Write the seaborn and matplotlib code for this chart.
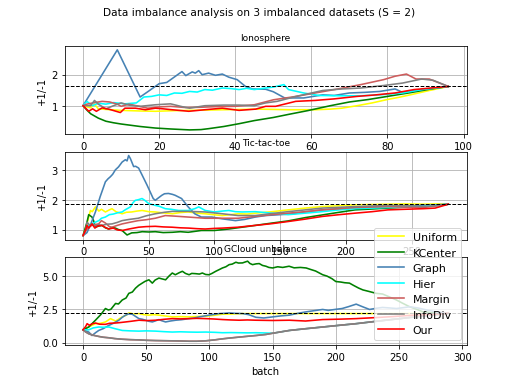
import matplotlib
matplotlib.use('Agg')
import matplotlib.pyplot as plt
from matplotlib.ticker import MultipleLocator, FormatStrFormatter
import pandas as pd
import seaborn as sns

METHODS = ['Uniform', 'KCenter', 'Graph', 'Hier', 'Margin', 'InfoDiv', 'Our']
COLORS = ['yellow', 'green', 'steelblue', 'cyan', 'indianred', 'gray', 'red']

# Ionosphere, (batch, +1/-1) pairs
IONO_UNIFORM = [(0, 1.0), (2, 0.93), (3, 1.05), (4, 0.9), (6, 0.88), (10, 0.85), (15, 0.83), (19, 0.82),
                (24, 0.84), (28, 0.85), (33, 0.86), (37, 0.87), (42, 0.88), (46, 0.89), (50, 0.88),
                (54, 0.87), (58, 0.87), (61, 0.87), (65, 0.89), (68, 0.92), (72, 1.0), (76, 1.09),
                (80, 1.2), (83, 1.27), (86, 1.35), (91, 1.49), (96, 1.62)]
IONO_KCENTER = [(0, 1.0), (1, 0.86), (2, 0.74), (4, 0.6), (6, 0.5), (8, 0.45), (10, 0.41), (15, 0.33),
                (19, 0.28), (23, 0.25), (28, 0.22), (31, 0.23), (33, 0.26), (37, 0.33), (41, 0.42),
                (45, 0.52), (50, 0.62), (54, 0.72), (59, 0.84), (65, 1.0), (70, 1.12), (75, 1.2),
                (80, 1.3), (86, 1.42), (91, 1.53), (96, 1.62)]
IONO_GRAPH = [(0, 1.0), (9, 2.8), (15, 1.28), (17, 1.45), (20, 1.71), (22, 1.75), (26, 2.1), (27, 1.97),
              (28.7, 2.09), (29.5, 2.05), (30.4, 2.13), (31.3, 2.0), (33, 2.05), (34.8, 1.98), (36.6, 2.02),
              (38.3, 1.92), (40.5, 1.84), (42.7, 1.62), (44.5, 1.54), (48, 1.53), (50, 1.45), (53, 1.25),
              (58, 1.25), (63, 1.35), (66, 1.33), (70, 1.41), (74, 1.43), (78, 1.46), (82, 1.54),
              (84, 1.43), (89, 1.52), (96, 1.62)]
IONO_HIER = [(0, 1.0), (1, 1.14), (2.4, 1.0), (4, 1.08), (6, 1.05), (8, 1.1), (11, 1.06), (14, 1.09),
             (16, 1.28), (18, 1.3), (20, 1.35), (22, 1.33), (24, 1.41), (26, 1.4), (28, 1.46), (30, 1.44),
             (32, 1.52), (34, 1.5), (36.6, 1.57), (39, 1.55), (41, 1.52), (43, 1.56), (45, 1.52), (48, 1.57),
             (50, 1.6), (52.8, 1.68), (54, 1.52), (58, 1.41), (62, 1.33), (68, 1.32), (73, 1.32),
             (78, 1.35), (84, 1.41), (89, 1.52), (96, 1.62)]
IONO_MARGIN = [(0, 1.0), (1, 1.05), (3, 1.1), (5, 1.14), (7, 1.12), (9, 1.05), (10, 0.98), (12, 1.05),
               (14, 1.0), (17, 0.92), (20, 0.96), (23, 0.98), (27, 0.94), (31, 0.95), (35, 0.97),
               (40, 0.98), (45, 1.03), (50, 1.19), (56, 1.3), (61, 1.41), (67, 1.54), (73, 1.68),
               (79, 1.84), (82, 1.95), (85, 2.02), (87.5, 1.86), (91, 1.86), (96, 1.62)]
IONO_INFODIV = [(0, 1.0), (2, 1.0), (3, 1.17), (4, 1.05), (6, 0.9), (8, 1.0), (10, 1.09), (12, 1.02),
                (15, 0.98), (19, 1.03), (23, 1.06), (26, 0.97), (28, 0.92), (32, 1.0), (37, 1.02),
                (41, 1.02), (45, 1.0), (48, 1.09), (51, 1.14), (56, 1.3), (63, 1.49), (68, 1.54),
                (73, 1.57), (79, 1.65), (84, 1.73), (89, 1.86), (92, 1.82), (96, 1.62)]
IONO_OUR = [(0, 1.0), (1.5, 0.82), (2.5, 0.9), (3.5, 0.82), (5, 0.93), (7, 0.88), (9.8, 0.78), (11, 0.92),
            (13.8, 0.92), (16.4, 0.87), (19, 0.92), (21, 0.9), (23.4, 0.87), (27.8, 0.82), (32, 0.87),
            (36.6, 0.92), (41, 0.85), (45.4, 0.89), (48, 0.98), (50.6, 0.98), (55.9, 1.14), (61, 1.17),
            (66, 1.22), (72, 1.3), (77, 1.35), (82, 1.41), (87, 1.52), (96, 1.62)]
IONO_REF = 1.62

# Tic-tac-toe
TTT_UNIFORM = [(0, 0.8), (3, 1.2), (5.6, 1.64), (7, 1.6), (9.4, 1.76), (12, 1.62), (14, 1.68), (17, 1.59),
               (20, 1.66), (22, 1.7), (25, 1.6), (29.7, 1.53), (33, 1.58), (37, 1.59), (41, 1.62),
               (45, 1.64), (50, 1.6), (55, 1.59), (61, 1.56), (68, 1.53), (74, 1.57), (80, 1.59),
               (87, 1.55), (93, 1.53), (99, 1.5), (106, 1.47), (112, 1.5), (118, 1.53), (125, 1.52),
               (131, 1.55), (144, 1.6), (156, 1.66), (169, 1.72), (182, 1.77), (195, 1.8), (207, 1.83),
               (220, 1.84), (232, 1.85), (245, 1.86), (259, 1.85), (270, 1.86), (278, 1.85)]
TTT_KCENTER = [(0, 0.8), (3, 1.25), (4.3, 1.5), (6.8, 1.42), (8, 1.3), (9.4, 1.08), (12, 1.12), (14.4, 1.14),
               (17, 1.06), (19.5, 1.02), (22, 1.07), (24.6, 1.05), (27, 1.0), (29.7, 0.97), (33.5, 0.82),
               (37, 0.89), (41, 0.9), (45, 0.93), (50, 0.92), (55, 0.93), (61, 0.9), (68, 0.91),
               (74, 0.93), (80, 0.91), (90, 0.97), (100, 0.97), (111, 1.02), (121, 1.08), (131, 1.14),
               (144, 1.22), (156, 1.29), (169, 1.4), (182, 1.49), (195, 1.58), (207, 1.66), (220, 1.69),
               (232, 1.72), (245, 1.75), (259, 1.77), (278, 1.85)]
TTT_GRAPH = [(0, 0.8), (3, 0.9), (6, 1.2), (9.4, 1.59), (13, 2.1), (17, 2.6), (19, 2.7), (20.8, 2.77),
             (22.5, 2.85), (24.6, 3.0), (27, 3.1), (29.7, 3.26), (32.2, 3.34), (33.5, 3.3), (34.7, 3.48),
             (36, 3.38), (38.5, 3.11), (40, 3.12), (42.3, 3.06), (44.9, 2.83), (48.7, 2.49), (53.4, 2.04),
             (55, 1.98), (57, 2.05), (60, 2.15), (62, 2.2), (65, 2.21), (68, 2.18), (70, 2.15), (75, 2.04),
             (80, 1.76), (85, 1.53), (90, 1.42), (98, 1.42), (106, 1.36), (116, 1.3), (123, 1.34),
             (131, 1.42), (139, 1.47), (150, 1.5), (160, 1.53), (170, 1.6), (182, 1.66), (195, 1.7),
             (207, 1.74), (220, 1.76), (232, 1.77), (245, 1.79), (259, 1.81), (278, 1.85)]
TTT_HIER = [(0, 0.8), (2, 0.95), (4.3, 1.14), (7, 1.2), (9.4, 1.25), (12, 1.3), (14, 1.38), (17, 1.42),
            (20, 1.5), (23, 1.52), (26, 1.56), (29.7, 1.59), (32, 1.66), (36, 1.76), (38, 1.9), (39.8, 1.98),
            (42, 2.0), (44.9, 2.04), (47, 1.98), (50, 1.87), (55, 1.81), (58, 1.78), (62.6, 1.7),
            (67, 1.68), (72.8, 1.64), (80, 1.64), (85, 1.7), (88, 1.76), (93, 1.64), (100, 1.59),
            (106, 1.62), (111, 1.64), (116, 1.6), (121, 1.59), (131, 1.6), (144, 1.55), (156, 1.5),
            (169, 1.55), (182, 1.6), (195, 1.66), (207, 1.7), (220, 1.72), (232, 1.74), (245, 1.76),
            (259, 1.77), (278, 1.85)]
TTT_MARGIN = [(0, 0.8), (2, 0.95), (4.3, 1.08), (7, 1.15), (11.9, 1.19), (14, 1.3), (17, 1.22), (20, 1.1),
              (22, 1.08), (26, 1.14), (29.7, 1.19), (35, 1.24), (42, 1.3), (48, 1.33), (55, 1.38),
              (62.6, 1.47), (70, 1.45), (80, 1.42), (93, 1.38), (106, 1.38), (118, 1.38), (131, 1.44),
              (144, 1.5), (156, 1.55), (169, 1.6), (182, 1.66), (195, 1.7), (207, 1.74), (232, 1.77),
              (259, 1.74), (278, 1.85)]
TTT_INFODIV = [(0, 0.8), (2, 1.0), (3, 1.25), (5, 1.15), (7, 1.2), (9, 1.12), (12, 1.16), (14.4, 1.14),
               (18, 1.18), (22, 1.19), (26, 1.24), (29.7, 1.3), (35, 1.34), (42, 1.38), (48, 1.46),
               (55, 1.53), (62, 1.58), (68, 1.61), (80, 1.61), (93, 1.59), (106, 1.53), (118, 1.47),
               (131, 1.47), (144, 1.54), (156, 1.6), (169, 1.66), (182, 1.72), (207, 1.77), (232, 1.81),
               (245, 1.8), (259, 1.77), (270, 1.8), (278, 1.85)]
TTT_OUR = [(0, 0.8), (2, 1.0), (3, 1.14), (4.3, 1.05), (6.8, 1.19), (9, 1.05), (11, 1.12), (14.4, 1.14),
           (17, 1.07), (19.5, 1.02), (23, 1.05), (26, 0.99), (29.7, 0.97), (35, 1.02), (42.3, 1.08),
           (48, 1.1), (55, 1.11), (61, 1.09), (67.7, 1.08), (74, 1.06), (80.4, 1.05), (87, 1.03),
           (93, 1.02), (100, 1.04), (106, 1.05), (118, 1.08), (131, 1.14), (144, 1.2), (156, 1.27),
           (169, 1.35), (182, 1.44), (195, 1.5), (207, 1.55), (220, 1.6), (232, 1.66), (245, 1.68),
           (259, 1.7), (268, 1.72), (278, 1.85)]
TTT_REF = 1.85

# GCloud unbalance
GC_UNIFORM = [(0, 0.96), (5, 1.2), (9.8, 1.42), (14, 1.45), (17.7, 1.55), (21.7, 1.8), (25.7, 1.62),
              (28, 1.75), (31, 1.93), (34, 2.05), (36.2, 2.23), (40, 2.15), (44.2, 2.18), (48, 2.1),
              (52, 2.06), (56, 2.1), (60, 2.06), (65, 2.0), (70.6, 1.93), (77, 1.95), (84, 1.93),
              (90, 1.96), (97, 1.98), (104, 2.05), (110, 2.13), (118, 2.15), (126, 2.18), (137, 2.18),
              (160, 2.18), (190, 2.18), (220, 2.18), (250, 2.18), (289, 2.2)]
GC_KCENTER = [(0, 0.96), (4.5, 1.17), (9.8, 1.68), (14, 2.1), (17.7, 2.56), (20, 2.45), (22, 2.5),
              (25.7, 2.94), (28, 2.9), (31, 3.2), (34, 3.35), (36.2, 3.7), (39, 3.8), (41.5, 4.09),
              (44, 4.3), (46.8, 4.47), (49, 4.6), (52.1, 4.72), (54.8, 4.47), (57, 4.7), (60, 4.85),
              (62, 4.8), (65.3, 4.72), (68, 5.0), (70.6, 5.23), (73, 5.1), (76, 5.25), (78.6, 5.36),
              (81, 5.2), (83.9, 5.1), (86, 5.2), (89.2, 5.18), (92, 5.15), (94.4, 5.23), (97, 5.12),
              (99.7, 5.1), (102, 5.2), (105, 5.36), (108, 5.5), (110.3, 5.61), (113, 5.7), (115.6, 5.86),
              (118, 5.9), (120.9, 6.04), (123, 5.98), (126.2, 5.99), (128, 6.05), (130.2, 6.12),
              (132, 5.95), (134.1, 5.86), (137, 5.92), (139.4, 5.94), (142, 5.8), (144.7, 5.74),
              (147, 5.65), (150, 5.61), (154, 5.7), (158, 5.65), (163, 5.74), (167, 5.62), (172, 5.65),
              (176.5, 5.61), (180, 5.5), (184, 5.38), (189.6, 5.1), (193, 5.0), (197, 4.8), (200, 4.59),
              (204, 4.55), (207, 4.5), (210.8, 4.47), (214, 4.3), (218, 4.1), (221.4, 3.96), (226, 3.85),
              (232, 3.7), (237, 3.65), (242, 3.45), (248, 3.2), (253, 2.95), (258.5, 2.69), (264, 2.5),
              (269, 2.31), (276, 2.25), (289, 2.2)]
GC_GRAPH = [(0, 0.96), (4.5, 0.79), (7.1, 0.53), (10, 0.75), (12.4, 0.91), (16, 1.05), (20.4, 1.29),
            (24, 1.45), (28.3, 1.68), (31, 1.9), (33.6, 2.06), (36, 2.15), (38.9, 2.13), (41, 2.0),
            (44.2, 1.8), (47, 1.75), (49.5, 1.68), (52, 1.6), (54.8, 1.55), (57, 1.62), (60, 1.73),
            (62, 1.65), (65.3, 1.55), (69, 1.62), (73.3, 1.68), (78, 1.72), (83.9, 1.8), (88, 1.85),
            (91.8, 1.93), (96, 2.0), (99.7, 2.06), (104, 2.12), (107.7, 2.18), (112, 2.2), (115.6, 2.23),
            (120, 2.2), (126.2, 2.18), (131, 2.1), (136.8, 1.9), (143, 1.85), (150, 1.93), (156, 2.0),
            (163.2, 2.06), (170, 2.2), (176.5, 2.31), (183, 2.4), (189.6, 2.49), (194, 2.42), (200, 2.5),
            (205, 2.56), (210, 2.7), (216.1, 2.89), (221, 2.7), (226.7, 2.49), (232, 2.58), (237, 2.64),
            (243, 2.6), (248, 2.56), (253, 2.62), (258.5, 2.69), (265, 2.6), (272, 2.45), (280, 2.3),
            (289, 2.2)]
GC_HIER = [(0, 0.96), (4.5, 0.96), (8, 1.1), (12.4, 1.17), (16, 1.15), (20.4, 1.17), (25, 1.05), (31, 0.91),
           (37, 0.88), (44.2, 0.86), (50, 0.88), (57.4, 0.86), (64, 0.82), (70.6, 0.79), (77, 0.81),
           (83.9, 0.79), (90, 0.78), (97, 0.79), (104, 0.77), (110.3, 0.74), (117, 0.75), (123.5, 0.74),
           (130, 0.73), (136.8, 0.74), (144.7, 0.72), (150, 0.7), (163.2, 0.91), (176, 1.04),
           (189.6, 1.17), (203, 1.3), (216, 1.42), (232, 1.6), (246, 1.75), (260, 1.9), (275, 2.05),
           (289, 2.2)]
GC_INFODIV = [(0, 0.96), (2, 0.8), (4.5, 0.66), (8, 0.55), (12.4, 0.46), (16, 0.4), (20.4, 0.36), (25, 0.3),
              (31, 0.25), (37, 0.22), (44.2, 0.2), (50, 0.17), (57.4, 0.15), (64, 0.14), (70.6, 0.13),
              (77, 0.12), (83.9, 0.1), (90, 0.1), (97, 0.13), (104, 0.2), (110.3, 0.28), (117, 0.35),
              (123.5, 0.41), (130, 0.47), (136.8, 0.53), (144.7, 0.61), (150, 0.7), (163.2, 0.91),
              (176, 1.04), (189.6, 1.17), (203, 1.3), (216, 1.42), (232, 1.6), (246, 1.75), (260, 1.9),
              (275, 2.05), (289, 2.2)]
GC_MARGIN = GC_INFODIV  # hidden under InfoDiv in the original
GC_OUR = [(0, 0.96), (2, 1.2), (3.2, 1.42), (5, 1.3), (7, 1.4), (9.8, 1.47), (13, 1.38), (17.7, 1.37),
          (21, 1.45), (25.7, 1.47), (29, 1.5), (33.6, 1.55), (38, 1.6), (44.2, 1.68), (50, 1.65),
          (57.4, 1.68), (64, 1.75), (70.6, 1.8), (77, 1.78), (83.9, 1.8), (90, 1.82), (97, 1.8),
          (104, 1.77), (110.3, 1.73), (117, 1.7), (123.5, 1.68), (130, 1.7), (136.8, 1.68), (150, 1.66),
          (163.2, 1.68), (176, 1.62), (189.6, 1.73), (203, 1.76), (216, 1.8), (232, 1.88), (246, 1.96),
          (260, 2.05), (275, 2.12), (289, 2.2)]
GC_REF = 2.2


def to_df(series_list):
    rows = []
    for name, pts in zip(METHODS, series_list):
        for x, y in pts:
            rows.append({'batch': x, 'value': y, 'method': name})
    return pd.DataFrame(rows)


def plot_panel(ax, series_list, ref, title):
    df = to_df(series_list)
    sns.lineplot(data=df, x='batch', y='value', hue='method', hue_order=METHODS,
                 palette=dict(zip(METHODS, COLORS)), estimator=None, sort=False,
                 linewidth=1.6, legend=False, ax=ax)
    ax.axhline(ref, color='k', linestyle='--', linewidth=1)
    ax.grid(True)
    ax.set_title(title, fontsize=9)
    ax.set_ylabel('+1/-1')
    ax.set_xlabel('')


fig, axes = plt.subplots(3, 1, figsize=(7.2, 5.4), dpi=72)
fig.suptitle('Data imbalance analysis on 3 imbalanced datasets (S = 2)', fontsize=10.5)

plot_panel(axes[0], [IONO_UNIFORM, IONO_KCENTER, IONO_GRAPH, IONO_HIER, IONO_MARGIN, IONO_INFODIV, IONO_OUR],
           IONO_REF, 'Ionosphere')
plot_panel(axes[1], [TTT_UNIFORM, TTT_KCENTER, TTT_GRAPH, TTT_HIER, TTT_MARGIN, TTT_INFODIV, TTT_OUR],
           TTT_REF, 'Tic-tac-toe')
plot_panel(axes[2], [GC_UNIFORM, GC_KCENTER, GC_GRAPH, GC_HIER, GC_MARGIN, GC_INFODIV, GC_OUR],
           GC_REF, 'GCloud unbalance')
axes[2].set_xlabel('batch')
axes[2].yaxis.set_major_locator(MultipleLocator(2.5))
axes[2].yaxis.set_major_formatter(FormatStrFormatter('%.1f'))

axes[2].legend(axes[2].get_lines()[:7], METHODS, loc='lower right', fontsize=11, handlelength=2.3)

plt.savefig('out.png', dpi=72)
